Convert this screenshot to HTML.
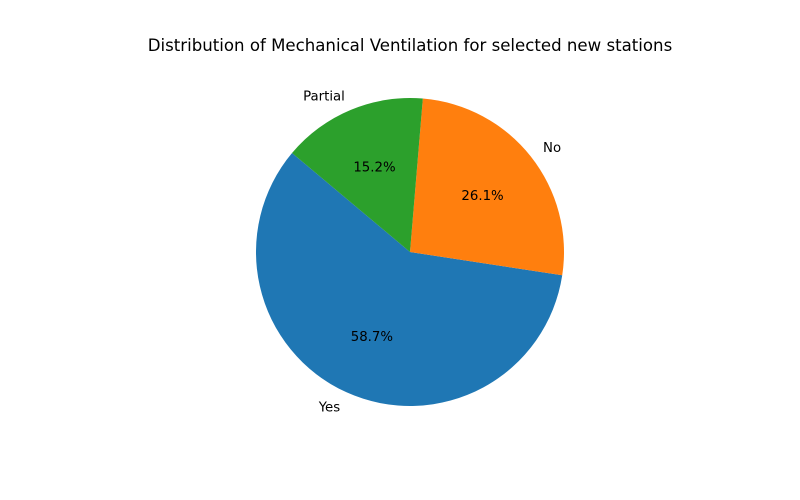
<!DOCTYPE html>
<html><head><meta charset="utf-8"><style>
html,body{margin:0;padding:0;background:#fff;}
svg{display:block;font-family:"DejaVu Sans","Liberation Sans",sans-serif;}
</style></head><body>
<svg id="chart" width="800" height="500" viewBox="0 0 800 500">
<text x="410" y="51" text-anchor="middle" font-size="16.6" fill="#000">Distribution of Mechanical Ventilation for selected new stations</text>
</svg>
<script>
const categories = ["Yes", "No", "Partial"];
const counts = [27, 12, 7];
const colors = ["#1f77b4", "#ff7f0e", "#2ca02c"];
const startAngle = 140;
const cx = 410, cy = 252, r = 154;
const svg = document.getElementById('chart');
const NS = "http://www.w3.org/2000/svg";
const total = counts.reduce((a, b) => a + b, 0);
function pt(deg, rad) { const a = deg * Math.PI / 180; return [cx + rad * Math.cos(a), cy - rad * Math.sin(a)]; }
let ang = startAngle;
counts.forEach((v, i) => {
  const sweep = v / total * 360;
  const a0 = ang, a1 = ang + sweep;
  const p0 = pt(a0, r), p1 = pt(a1, r);
  const large = sweep > 180 ? 1 : 0;
  const path = document.createElementNS(NS, 'path');
  path.setAttribute('d', `M${cx},${cy} L${p0[0]},${p0[1]} A${r},${r} 0 ${large} 0 ${p1[0]},${p1[1]} Z`);
  path.setAttribute('fill', colors[i]);
  
  
  svg.appendChild(path);
  const mid = (a0 + a1) / 2;
  const lp = pt(mid, r * 1.1);
  const lab = document.createElementNS(NS, 'text');
  lab.setAttribute('x', lp[0]);
  lab.setAttribute('y', lp[1] + 5);
  lab.setAttribute('font-size', '13.3');
  lab.setAttribute('text-anchor', Math.cos(mid * Math.PI / 180) >= 0 ? 'start' : 'end');
  lab.textContent = categories[i];
  
  
  svg.appendChild(lab);
  const pp = pt(mid, r * 0.6);
  const pct = document.createElementNS(NS, 'text');
  pct.setAttribute('x', pp[0]);
  pct.setAttribute('y', pp[1] + 5);
  pct.setAttribute('font-size', '13.3');
  pct.setAttribute('text-anchor', 'middle');
  pct.textContent = (v / total * 100).toFixed(1) + '%';
  
  
  svg.appendChild(pct);
  ang = a1;
});
</script>
</body></html>
